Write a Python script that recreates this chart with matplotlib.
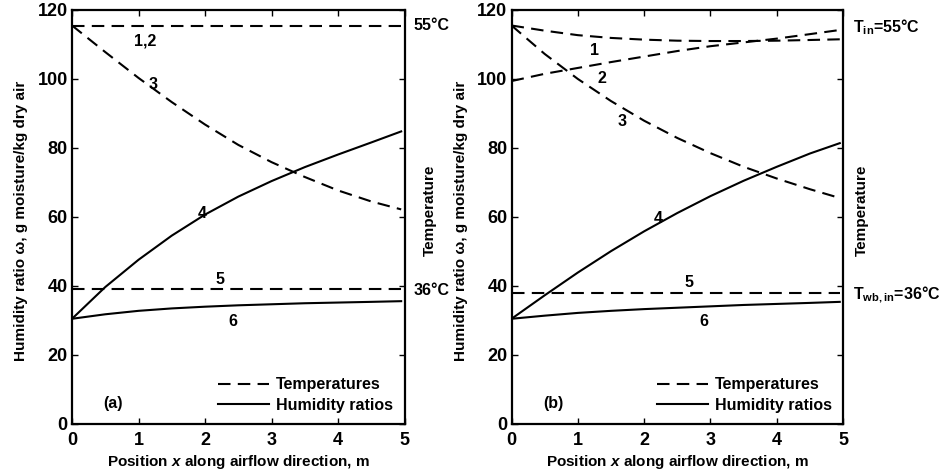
import matplotlib
matplotlib.use("Agg")
import matplotlib.pyplot as plt

plt.rcParams['font.family'] = ['Liberation Sans', 'DejaVu Sans']
plt.rcParams['font.weight'] = 'bold'
plt.rcParams['mathtext.fontset'] = 'custom'
plt.rcParams['mathtext.rm'] = 'Liberation Sans:bold'
plt.rcParams['mathtext.it'] = 'Liberation Sans:italic:bold'
plt.rcParams['mathtext.bf'] = 'Liberation Sans:bold'

# positions along airflow, m
x = [0, 0.5, 1, 1.5, 2, 2.5, 3, 3.5, 4, 4.5, 4.95]

# (a) temperatures (plotted on humidity scale) and humidity ratios
a_t12 = [115.5] * 11
a_t3 = [115.5, 107.8, 100.3, 93.3, 86.8, 80.9, 75.9, 71.6, 67.7, 64.5, 62.2]
a_w4 = [30.5, 39.7, 47.6, 54.6, 60.7, 65.9, 70.4, 74.45, 78.1, 81.6, 84.8]
a_t5 = [39.0] * 11
a_w6 = [30.5, 31.8, 32.8, 33.5, 34.0, 34.4, 34.7, 35.0, 35.2, 35.4, 35.6]

# (b)
b_t1 = [115.5, 114.0, 112.7, 111.9, 111.4, 111.1, 111.0, 111.0, 111.1, 111.3, 111.5]
b_t2 = [99.4, 101.5, 103.2, 104.9, 106.5, 108.1, 109.5, 110.6, 111.7, 113, 114.2]
b_t3 = [115.5, 107.25, 100.0, 93.6, 87.9, 82.9, 78.5, 74.55, 71.15, 68.05, 65.5]
b_w4 = [30.5, 37.3, 43.9, 50.1, 55.85, 61.15, 66.05, 70.5, 74.55, 78.4, 81.4]
b_t5 = [37.9] * 11
b_w6 = [30.5, 31.4, 32.2, 32.8, 33.3, 33.7, 34.1, 34.5, 34.8, 35.1, 35.4]

xticks = [0, 1, 2, 3, 4, 5]
yticks = [0, 20, 40, 60, 80, 100, 120]

ylab = 'Humidity ratio \u03c9, g moisture/kg dry air'
xlab = r'Position $x$ along airflow direction, m'

fig = plt.figure(figsize=(9.44, 4.73), dpi=100)
ax1 = fig.add_axes([0.0763, 0.1036, 0.3522, 0.8753])
ax2 = fig.add_axes([0.5419, 0.1036, 0.3512, 0.8753])

dash = (6, 3.5)
lw = 1.5


def setup(ax):
    ax.set_xlim(0, 5)
    ax.set_ylim(0, 120)
    ax.set_xticks(xticks)
    ax.set_yticks(yticks)
    ax.tick_params(direction='in', length=4, width=1, labelsize=13,
                   top=True, right=True, pad=3)
    ax.tick_params(axis='x', pad=6)
    for s in ax.spines.values():
        s.set_linewidth(1.6)
    ax.set_xlabel(xlab, fontsize=11, fontweight='bold', labelpad=3)
    ax.set_ylabel(ylab, fontsize=11, fontweight='bold')
    ax.yaxis.set_label_coords(-0.132, 0.49)


# panel (a)
setup(ax1)
ax1.plot(x, a_t12, 'k--', lw=lw, dashes=dash, label='Temperatures')
ax1.plot(x, a_w4, 'k-', lw=lw, label='Humidity ratios')
ax1.plot(x, a_t3, 'k--', lw=lw, dashes=dash)
ax1.plot(x, a_t5, 'k--', lw=lw, dashes=dash)
ax1.plot(x, a_w6, 'k-', lw=lw)
lbl = dict(fontsize=11.5, ha='center', va='center')
ax1.text(1.1, 111.1, '1,2', **lbl)
ax1.text(1.22, 98.3, '3', **lbl)
ax1.text(1.96, 61.1, '4', **lbl)
ax1.text(2.23, 41.9, '5', **lbl)
ax1.text(2.42, 29.8, '6', **lbl)
ax1.text(0.62, 5.8, '(a)', **lbl)
ax1.text(5.14, 115.5, '55\u00b0C', fontsize=11.5, ha='left', va='center', clip_on=False)
ax1.text(5.14, 38.6, '36\u00b0C', fontsize=11.5, ha='left', va='center', clip_on=False)
ax1.text(5.38, 62, 'Temperature', fontsize=11, rotation=90, ha='center', va='center', clip_on=False)
ax1.legend(loc='lower right', frameon=False, fontsize=11.5, handlelength=3.2,
           handletextpad=0.45, labelspacing=0.35, borderaxespad=0.3)

# panel (b)
setup(ax2)
ax2.plot(x, b_t1, 'k--', lw=lw, dashes=dash, label='Temperatures')
ax2.plot(x, b_w4, 'k-', lw=lw, label='Humidity ratios')
ax2.plot(x, b_t2, 'k--', lw=lw, dashes=dash)
ax2.plot(x, b_t3, 'k--', lw=lw, dashes=dash)
ax2.plot(x, b_t5, 'k--', lw=lw, dashes=dash)
ax2.plot(x, b_w6, 'k-', lw=lw)
ax2.text(1.25, 108.4, '1', **lbl)
ax2.text(1.37, 100, '2', **lbl)
ax2.text(1.67, 87.6, '3', **lbl)
ax2.text(2.21, 59.7, '4', **lbl)
ax2.text(2.68, 41, '5', **lbl)
ax2.text(2.9, 29.6, '6', **lbl)
ax2.text(0.63, 5.8, '(b)', **lbl)
ax2.text(5.15, 115.0, 'T$_{\\mathrm{in}}$=55\u00b0C', fontsize=11.5, ha='left', va='center', clip_on=False)
ax2.text(5.15, 37.5, 'T$_{\\mathrm{wb,in}}$=36\u00b0C', fontsize=11.5, ha='left', va='center', clip_on=False)
ax2.text(5.28, 62, 'Temperature', fontsize=11, rotation=90, ha='center', va='center', clip_on=False)
ax2.legend(loc='lower right', frameon=False, fontsize=11.5, handlelength=3.2,
           handletextpad=0.45, labelspacing=0.35, borderaxespad=0.3)

fig.savefig('out.png', dpi=100)
